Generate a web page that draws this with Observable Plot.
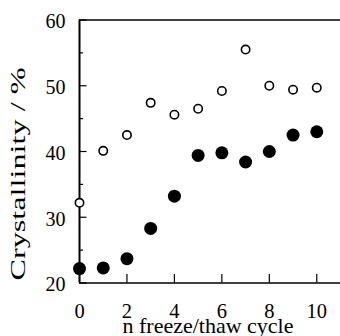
<!DOCTYPE html>
<html><head><meta charset="utf-8">
<script src="https://cdn.jsdelivr.net/npm/d3@7"></script>
<script src="https://cdn.jsdelivr.net/npm/@observablehq/plot@0.6"></script>
<style>body{margin:0;background:#fff}</style>
</head><body><div id="chart"></div>
<script>
const cycles = [0,1,2,3,4,5,6,7,8,9,10];
const openValues = [32.2,40.1,42.5,47.4,45.6,46.5,49.2,55.5,50.0,49.4,49.7];
const filledValues = [22.2,22.3,23.7,28.3,33.2,39.4,39.8,38.4,40.0,42.5,43.0];
const xTicks = [0,2,4,6,8,10];
const yTicks = [20,30,40,50,60];
const yMinorTicks = [25,35,45,55];
const xLabel = "n freeze/thaw cycle";
const yLabel = "Crystallinity / %";

const openData = cycles.map((c, i) => ({x: c, y: openValues[i]}));
const filledData = cycles.map((c, i) => ({x: c, y: filledValues[i]}));
const font = "'Liberation Serif', 'Times New Roman', serif";

const plot = Plot.plot({
  width: 340, height: 336,
  marginLeft: 79, marginRight: 0, marginTop: 19.5, marginBottom: 53.5,
  style: {fontFamily: font, fontSize: "20px", background: "white", color: "black", overflow: "visible"},
  x: {domain: [0, 11]},
  y: {domain: [20, 60]},
  marks: [
    Plot.axisX(xTicks, {tickSize: 0, tickPadding: 20.5, fontSize: 20.5, label: null}),
    Plot.axisX(xTicks, {tickSize: -8.5, text: null, label: null, strokeWidth: 1.2}),
    Plot.axisY(yTicks, {tickSize: 0, tickPadding: 14, dy: 2, fontSize: 20, label: null}),
    Plot.axisY(yTicks, {tickSize: -7.5, text: null, label: null, strokeWidth: 1.2}),
    Plot.axisY(yMinorTicks, {tickSize: -4, text: null, label: null, strokeWidth: 1.2}),
    Plot.ruleX([0], {strokeWidth: 2}),
    Plot.ruleY([20], {strokeWidth: 1.6}),
    Plot.ruleY([60], {strokeWidth: 1.6}),
    Plot.dot(openData, {x: "x", y: "y", r: 4.2, stroke: "black", strokeWidth: 1.6, fill: "white"}),
    Plot.dot(filledData, {x: "x", y: "y", r: 6.5, fill: "black", stroke: null}),
    Plot.text([xLabel], {frameAnchor: "bottom", lineAnchor: "middle", dy: 43, dx: -2, fontSize: 22}),
    Plot.text([yLabel], {frameAnchor: "left", textAnchor: "start", rotate: -90, dx: -61, dy: 129, fontSize: 20})
  ]
});
d3.select(plot).selectAll("text")
  .filter(function() { return this.textContent === yLabel; })
  .attr("textLength", 213)
  .attr("lengthAdjust", "spacingAndGlyphs");
document.getElementById("chart").appendChild(plot);
</script>
</body></html>
